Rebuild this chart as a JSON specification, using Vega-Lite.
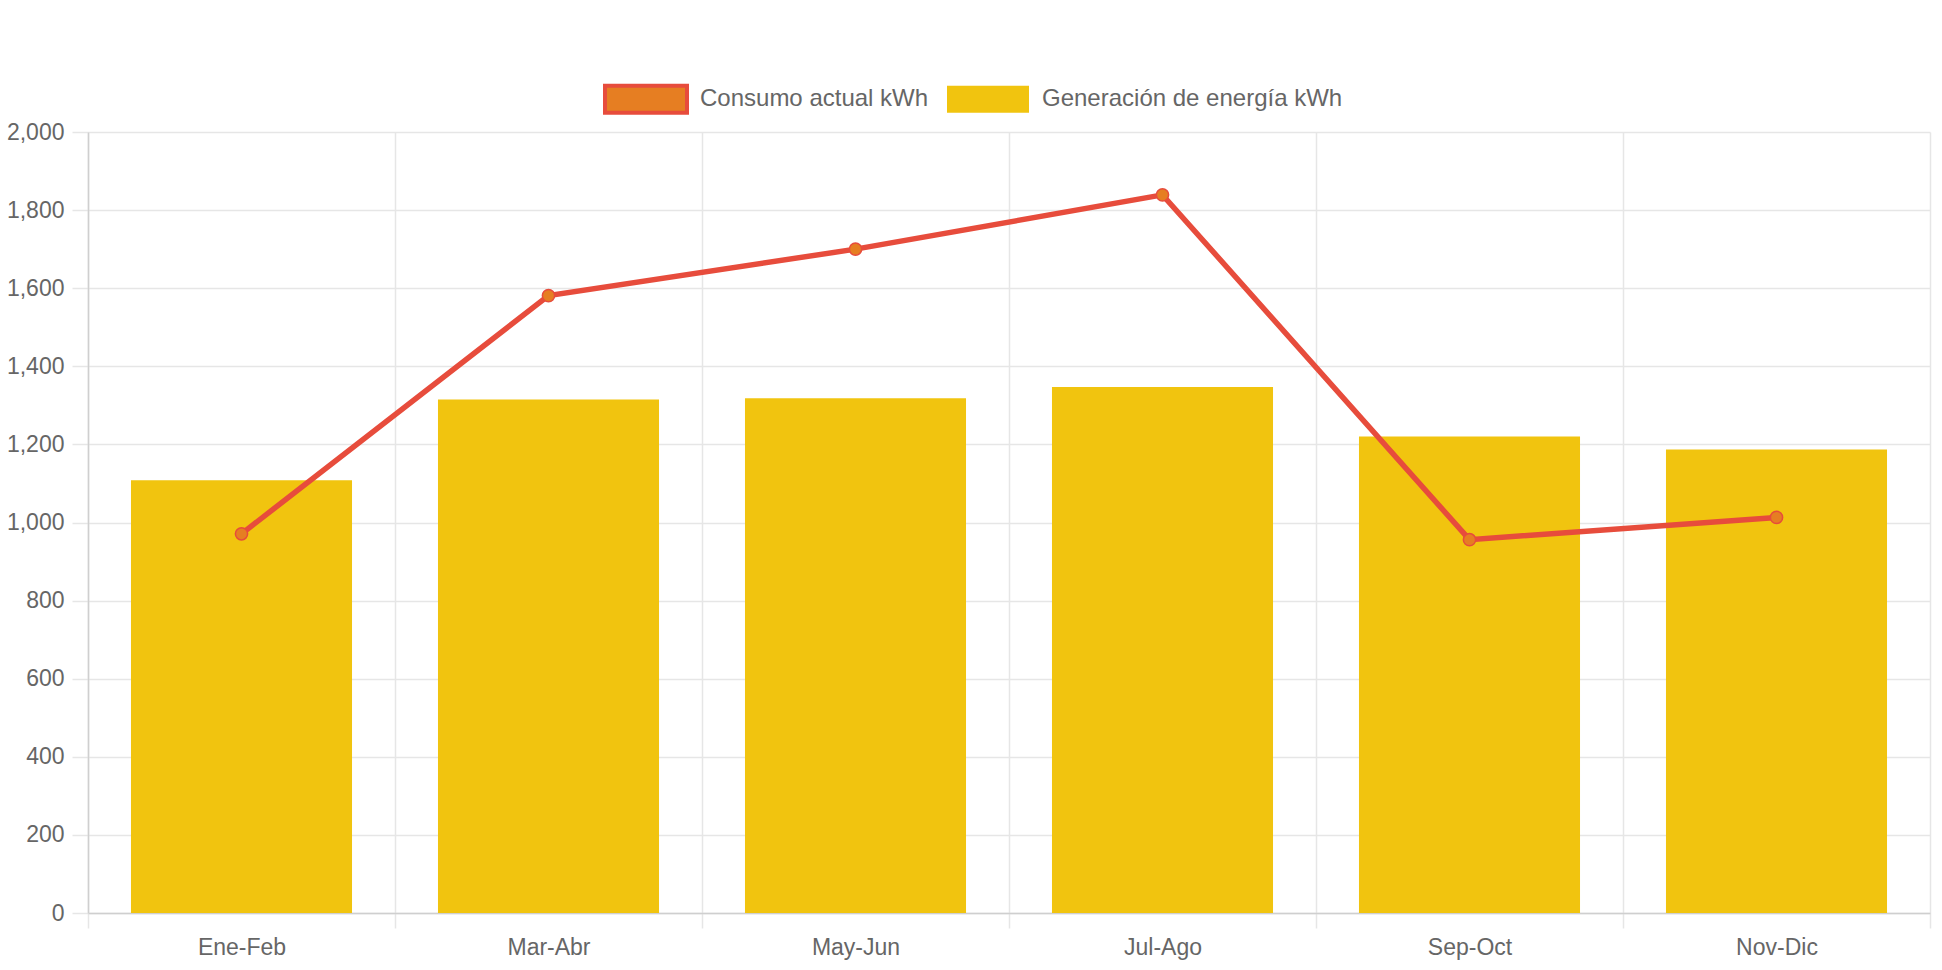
{
  "$schema": "https://vega.github.io/schema/vega-lite/v6.json",
  "autosize": {"type": "none"},
  "padding": {"left": 88, "top": 132, "right": 12, "bottom": 57},
  "width": 1842,
  "height": 781,
  "background": "white",
  "data": {
    "values": [
      {"periodo": "Ene-Feb", "serie": "Generación de energía kWh", "kwh": 1108},
      {"periodo": "Mar-Abr", "serie": "Generación de energía kWh", "kwh": 1315},
      {"periodo": "May-Jun", "serie": "Generación de energía kWh", "kwh": 1318},
      {"periodo": "Jul-Ago", "serie": "Generación de energía kWh", "kwh": 1347},
      {"periodo": "Sep-Oct", "serie": "Generación de energía kWh", "kwh": 1220},
      {"periodo": "Nov-Dic", "serie": "Generación de energía kWh", "kwh": 1187},
      {"periodo": "Ene-Feb", "serie": "Consumo actual kWh", "kwh": 971},
      {"periodo": "Mar-Abr", "serie": "Consumo actual kWh", "kwh": 1581},
      {"periodo": "May-Jun", "serie": "Consumo actual kWh", "kwh": 1700},
      {"periodo": "Jul-Ago", "serie": "Consumo actual kWh", "kwh": 1839},
      {"periodo": "Sep-Oct", "serie": "Consumo actual kWh", "kwh": 956},
      {"periodo": "Nov-Dic", "serie": "Consumo actual kWh", "kwh": 1013}
    ]
  },
  "encoding": {
    "x": {
      "field": "periodo",
      "type": "nominal",
      "sort": ["Ene-Feb", "Mar-Abr", "May-Jun", "Jul-Ago", "Sep-Oct", "Nov-Dic"],
      "scale": {"paddingInner": 0, "paddingOuter": 0},
      "axis": {
        "title": null,
        "labelAngle": 0,
        "grid": true,
        "tickBand": "extent",
        "tickSize": 15,
        "labelPadding": 8,
        "labelFontSize": 23
      }
    },
    "y": {
      "field": "kwh",
      "type": "quantitative",
      "scale": {"domain": [0, 2000], "nice": false},
      "axis": {
        "title": null,
        "values": [0, 200, 400, 600, 800, 1000, 1200, 1400, 1600, 1800, 2000],
        "format": ",d",
        "tickSize": 16,
        "labelPadding": 8,
        "labelFontSize": 23
      }
    }
  },
  "layer": [
    {
      "transform": [{"filter": "datum.serie === 'Generación de energía kWh'"}],
      "mark": {"type": "bar", "width": {"band": 0.72}},
      "encoding": {
        "color": {
          "field": "serie",
          "type": "nominal",
          "scale": {
            "domain": ["Consumo actual kWh", "Generación de energía kWh"],
            "range": ["#e67e22", "#f1c40f"]
          },
          "legend": {
            "title": null,
            "orient": "none",
            "direction": "horizontal",
            "legendX": 515,
            "legendY": -76,
            "symbolType": "M-1,-0.33L1,-0.33L1,0.33L-1,0.33Z",
            "symbolSize": 6724,
            "symbolOpacity": 1,
            "labelOffset": 11,
            "labelLimit": 500,
            "columnPadding": 10,
            "labelFontSize": 24,
            "labelColor": "#666666",
            "labelFont": "Liberation Sans",
            "encode": {
              "symbols": {
                "update": {
                  "stroke": {"signal": "datum.value === 'Consumo actual kWh' ? '#e74c3c' : 'transparent'"},
                  "strokeWidth": {"value": 4}
                }
              }
            }
          }
        }
      }
    },
    {
      "transform": [{"filter": "datum.serie === 'Consumo actual kWh'"}],
      "mark": {"type": "line", "color": "#e74c3c", "strokeWidth": 5.5},
      "encoding": {}
    },
    {
      "transform": [{"filter": "datum.serie === 'Consumo actual kWh'"}],
      "mark": {
        "type": "point",
        "filled": true,
        "fill": "#e67e22",
        "stroke": "#e74c3c",
        "strokeWidth": 1.5,
        "size": 150,
        "opacity": 1
      },
      "encoding": {}
    }
  ],
  "config": {
    "view": {"stroke": null},
    "font": "Liberation Sans",
    "axis": {
      "labelFont": "Liberation Sans",
      "labelFontSize": 22,
      "labelColor": "#666666",
      "gridColor": "#e6e6e6",
      "tickColor": "#e6e6e6",
      "domainColor": "#cfcfcf",
      "gridWidth": 1.5,
      "tickWidth": 1.5,
      "domainWidth": 1.5
    }
  }
}
